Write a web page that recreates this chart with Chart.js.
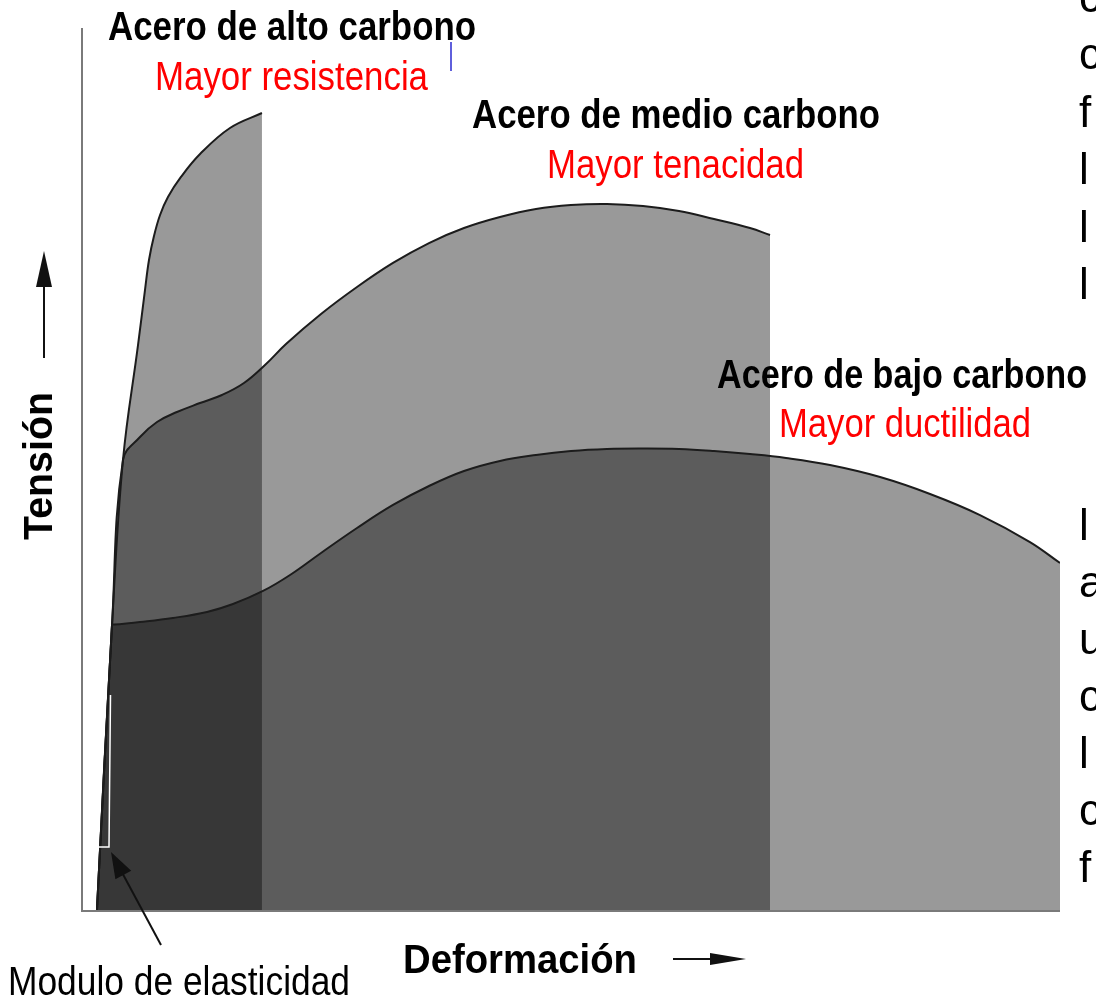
<!DOCTYPE html>
<html>
<head>
<meta charset="utf-8">
<script src="https://cdn.jsdelivr.net/npm/chart.js@4.4.1/dist/chart.umd.min.js"></script>
<style>
  html, body { margin: 0; padding: 0; background: #fff; }
  canvas { display: block; }
</style>
</head>
<body>
<canvas id="aceroChart" width="1096" height="1002"></canvas>
<script>
// Curvas tensión-deformación (unidades relativas, 0-100)
const bajoDeformacion = [1.53, 3.07, 3.30, 5.93, 9.30, 12.78, 15.44, 18.51, 21.27, 24.44, 28.12, 31.80, 35.48, 39.06, 42.74, 46.42, 50.0, 53.68, 57.36, 61.04, 64.62, 68.30, 71.98, 76.48, 81.60, 86.71, 91.82, 96.93, 100];
const bajoTension     = [0, 32.31, 32.36, 32.65, 33.11, 33.79, 34.69, 36.17, 37.98, 40.48, 43.31, 45.92, 48.07, 49.77, 50.91, 51.59, 52.04, 52.27, 52.32, 52.27, 52.04, 51.70, 51.25, 50.45, 49.09, 47.17, 44.78, 41.72, 39.34];

const medioDeformacion = [1.53, 3.07, 4.19, 5.93, 7.67, 9.71, 12.07, 14.31, 16.56, 18.71, 20.86, 24.44, 28.12, 31.80, 35.48, 39.06, 42.74, 46.42, 50.0, 53.68, 57.36, 61.04, 64.62, 68.30, 70.35];
const medioTension     = [0, 32.31, 51.02, 53.63, 55.33, 56.46, 57.48, 58.39, 59.75, 61.79, 64.17, 67.57, 70.63, 73.36, 75.62, 77.32, 78.57, 79.48, 79.93, 80.05, 79.82, 79.25, 78.34, 77.32, 76.53];

const altoDeformacion = [1.53, 3.07, 4.19, 5.73, 6.44, 6.85, 7.36, 7.98, 8.79, 10.12, 12.07, 15.13, 18.40];
const altoTension     = [0, 32.31, 51.02, 64.06, 70.29, 73.70, 76.42, 78.80, 80.84, 83.11, 85.71, 88.66, 90.36];

const serieNombres = ["Acero de bajo carbono", "Acero de medio carbono", "Acero de alto carbono"];

// letras cortadas en el borde derecho
const letrasArriba = ["c", "c", "f", "l", "l", "l"];
const letrasAbajo  = ["l", "a", "u", "c", "l", "c", "f"];

function puntos(xs, ys) {
  return xs.map((x, i) => ({ x: x, y: ys[i] }));
}

function serie(nombre, xs, ys) {
  return {
    label: nombre,
    data: puntos(xs, ys),
    showLine: true,
    fill: "origin",
    backgroundColor: "rgba(0, 0, 0, 0.4)",
    borderColor: "#1c1c1c",
    borderWidth: 2,
    pointRadius: 0,
    tension: 0.4
  };
}

const textos = [
  { t: "Acero de alto carbono", x: 108, y: 40, w: 368, bold: true, color: "#000" },
  { t: "Mayor resistencia", x: 155, y: 90, w: 273, bold: false, color: "#ff0000" },
  { t: "Acero de medio carbono", x: 472, y: 128, w: 408, bold: true, color: "#000" },
  { t: "Mayor tenacidad", x: 547, y: 178, w: 257, bold: false, color: "#ff0000" },
  { t: "Acero de bajo carbono", x: 717, y: 388, w: 370, bold: true, color: "#000" },
  { t: "Mayor ductilidad", x: 779, y: 437, w: 252, bold: false, color: "#ff0000" },
  { t: "Deformación", x: 403, y: 973, w: 234, bold: true, color: "#000" },
  { t: "Modulo de elasticidad", x: 8, y: 995, w: 342, bold: false, color: "#000" }
];

function flecha(ctx, x1, y1, x2, y2, largo, ancho) {
  const ang = Math.atan2(y2 - y1, x2 - x1);
  ctx.beginPath();
  ctx.moveTo(x1, y1);
  ctx.lineTo(x2 - Math.cos(ang) * largo * 0.6, y2 - Math.sin(ang) * largo * 0.6);
  ctx.stroke();
  ctx.beginPath();
  ctx.moveTo(x2, y2);
  ctx.lineTo(x2 - Math.cos(ang) * largo - Math.sin(ang) * ancho, y2 - Math.sin(ang) * largo + Math.cos(ang) * ancho);
  ctx.lineTo(x2 - Math.cos(ang) * largo + Math.sin(ang) * ancho, y2 - Math.sin(ang) * largo - Math.cos(ang) * ancho);
  ctx.closePath();
  ctx.fill();
}

const decoracion = {
  id: "decoracion",
  afterDatasetsDraw(chart) {
    const { ctx, chartArea } = chart;
    ctx.save();
    // ejes
    ctx.strokeStyle = "#7a7a7a";
    ctx.lineWidth = 2;
    ctx.beginPath();
    ctx.moveTo(chartArea.left, chartArea.top);
    ctx.lineTo(chartArea.left, chartArea.bottom + 1);
    ctx.lineTo(chartArea.right, chartArea.bottom + 1);
    ctx.stroke();

    // marca blanca del modulo
    ctx.strokeStyle = "#ffffff";
    ctx.lineWidth = 1.5;
    ctx.beginPath();
    ctx.moveTo(110.5, 695);
    ctx.lineTo(109, 847);
    ctx.lineTo(99, 847);
    ctx.stroke();
    ctx.restore();
  },
  afterDraw(chart) {
    const ctx = chart.ctx;
    ctx.save();
    ctx.textBaseline = "alphabetic";
    ctx.textAlign = "left";
    textos.forEach(d => {
      ctx.font = (d.bold ? "bold 41px" : "40px") + " 'Liberation Sans', Arial, sans-serif";
      ctx.fillStyle = d.color;
      ctx.fillText(d.t, d.x, d.y, d.w);
    });

    // titulo vertical
    ctx.save();
    ctx.translate(52, 466);
    ctx.rotate(-Math.PI / 2);
    ctx.textAlign = "center";
    ctx.font = "bold 41px 'Liberation Sans', Arial, sans-serif";
    ctx.fillStyle = "#000";
    ctx.fillText("Tensión", 0, 0, 148);
    ctx.restore();

    // flechas
    ctx.strokeStyle = "#111";
    ctx.fillStyle = "#111";
    ctx.lineWidth = 2;
    flecha(ctx, 44, 358, 44, 251, 36, 8);
    flecha(ctx, 673, 959, 746, 959, 36, 6);
    flecha(ctx, 161, 945, 111, 852, 26, 9);

    // marca azul
    ctx.strokeStyle = "#2a2ad0";
    ctx.lineWidth = 1.5;
    ctx.beginPath();
    ctx.moveTo(451, 42);
    ctx.lineTo(451, 71);
    ctx.stroke();

    // texto cortado del borde derecho
    ctx.font = "44px 'Liberation Sans', Arial, sans-serif";
    ctx.fillStyle = "#000";
    letrasArriba.forEach((l, i) => ctx.fillText(l, 1079, 12 + i * 57.4));
    letrasAbajo.forEach((l, i) => ctx.fillText(l, 1079, 540 + i * 57));
    ctx.restore();
  }
};

const ctx = document.getElementById("aceroChart").getContext("2d");
new Chart(ctx, {
  type: "scatter",
  data: {
    datasets: [
      serie(serieNombres[0], bajoDeformacion, bajoTension),
      serie(serieNombres[1], medioDeformacion, medioTension),
      serie(serieNombres[2], altoDeformacion, altoTension)
    ]
  },
  options: {
    responsive: false,
    animation: false,
    events: [],
    layout: { padding: { left: 82, top: 28, right: 36, bottom: 92 } },
    scales: {
      x: { type: "linear", min: 0, max: 100, display: false },
      y: { type: "linear", min: 0, max: 100, display: false }
    },
    plugins: {
      legend: { display: false },
      tooltip: { enabled: false },
      filler: { drawTime: "beforeDatasetsDraw" }
    }
  },
  plugins: [decoracion]
});
</script>
</body>
</html>
